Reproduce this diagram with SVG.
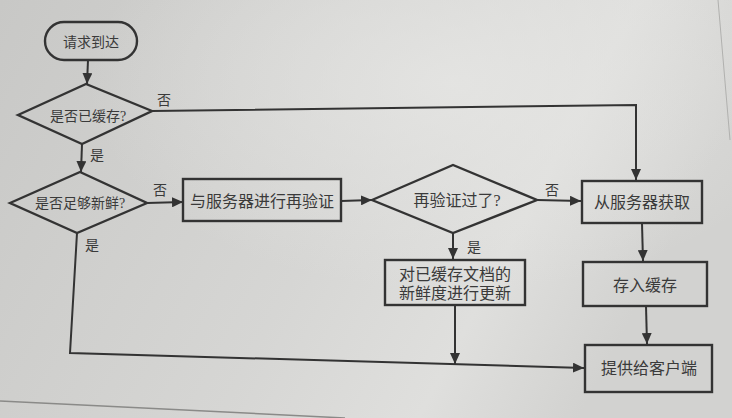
<svg xmlns="http://www.w3.org/2000/svg" width="732" height="418" viewBox="0 0 732 418">
<defs>
<linearGradient id="bg" x1="0" y1="0" x2="1" y2="0.3">
<stop offset="0" stop-color="#c8c8c6"/>
<stop offset="0.55" stop-color="#d6d6d4"/>
<stop offset="0.8" stop-color="#dfdfdd"/>
<stop offset="1" stop-color="#d2d2d0"/>
</linearGradient>
<radialGradient id="hl" cx="0.62" cy="0.2" r="0.5">
<stop offset="0" stop-color="#e6e6e4" stop-opacity="0.8"/>
<stop offset="1" stop-color="#e6e6e4" stop-opacity="0"/>
</radialGradient>
<marker id="arr" markerUnits="userSpaceOnUse" markerWidth="12" markerHeight="10" refX="11" refY="5" orient="auto">
<path d="M0,0 L11,5 L0,10 z" fill="#333"/>
</marker>
</defs>
<style>
.shape{fill:none;stroke:#333;stroke-width:2.4}
.conn{fill:none;stroke:#333;stroke-width:2}
.t{font-family:"Liberation Serif","Noto Sans CJK SC",serif;fill:#3a3a3a;text-anchor:middle;dominant-baseline:central}
.n{font-size:16px}
.s{font-size:14px}
.lbl{font-size:14px}
</style>
<rect width="732" height="418" fill="url(#bg)"/>
<rect width="732" height="418" fill="url(#hl)"/>
<path d="M0,401 L345,418" stroke="#8a8a88" stroke-width="1.5" fill="none"/>
<path d="M718,0 L730,140" stroke="#b0b0ae" stroke-width="1" fill="none"/>

<g id="connectors">
<path class="conn" d="M88,60 L87,84" marker-end="url(#arr)"/>
<path class="conn" d="M152,111 L636,105 L636,180" marker-end="url(#arr)"/>
<path class="conn" d="M82,144 L81,172" marker-end="url(#arr)"/>
<path class="conn" d="M147,203 L183,202" marker-end="url(#arr)"/>
<path class="conn" d="M341,201 L372,200" marker-end="url(#arr)"/>
<path class="conn" d="M537,200 L581,201" marker-end="url(#arr)"/>
<path class="conn" d="M453,233 L453,259" marker-end="url(#arr)"/>
<path class="conn" d="M455,305 L455,364" marker-end="url(#arr)"/>
<path class="conn" d="M642,223 L643,261" marker-end="url(#arr)"/>
<path class="conn" d="M646,306 L647,344" marker-end="url(#arr)"/>
<path class="conn" d="M77,233 L70,353 L584,368" marker-end="url(#arr)"/>
<text class="t lbl" x="164" y="100">否</text>
<text class="t lbl" x="97" y="155">是</text>
<text class="t lbl" x="160" y="190">否</text>
<text class="t lbl" x="92" y="245">是</text>
<text class="t lbl" x="552" y="190">否</text>
<text class="t lbl" x="474" y="247">是</text>
</g>

<g id="start">
<rect class="shape" x="45" y="22" width="92" height="38" rx="19"/>
<text class="t s" x="91" y="42">请求到达</text>
</g>
<g id="is-cached">
<polygon class="shape" points="18,115 86,84 152,111 82,144"/>
<text class="t s" x="88" y="116">是否已缓存?</text>
</g>
<g id="is-fresh">
<polygon class="shape" points="10,203 80,172 147,203 77,233"/>
<text class="t s" x="80" y="203">是否足够新鲜?</text>
</g>
<g id="revalidate">
<rect class="shape" x="183" y="179" width="158" height="42"/>
<text class="t n" x="262" y="201">与服务器进行再验证</text>
</g>
<g id="revalidated">
<polygon class="shape" points="372,200 453,165 537,200 453,233"/>
<text class="t n" x="457" y="200">再验证过了?</text>
</g>
<g id="fetch">
<rect class="shape" x="582" y="181" width="120" height="42"/>
<text class="t n" x="642" y="202">从服务器获取</text>
</g>
<g id="update-freshness">
<rect class="shape" x="385" y="260" width="140" height="45"/>
<text class="t n" x="455" y="274">对已缓存文档的</text>
<text class="t n" x="455" y="293">新鲜度进行更新</text>
</g>
<g id="store">
<rect class="shape" x="583" y="262" width="124" height="44"/>
<text class="t n" x="645" y="285">存入缓存</text>
</g>
<g id="serve">
<rect class="shape" x="585" y="345" width="127" height="47"/>
<text class="t n" x="649" y="368">提供给客户端</text>
</g>
</svg>
